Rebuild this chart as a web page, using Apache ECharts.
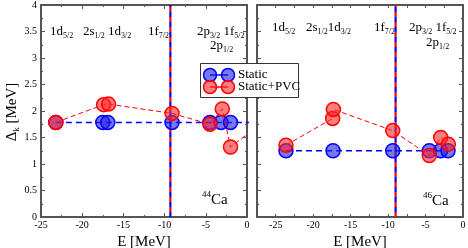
<!DOCTYPE html>
<html><head><meta charset="utf-8">
<script src="https://cdn.jsdelivr.net/npm/echarts@6/dist/echarts.min.js"></script>
<style>html,body{margin:0;padding:0;background:#fff}#c{width:468px;height:248px}</style>
</head><body><div id="c"></div>
<script>
// 44Ca panel
const staticE44 = [-23.2, -17.5, -16.9, -9.1, -4.5, -3.15, -2.0, 1.0];
const static44  = [1.785, 1.785, 1.785, 1.785, 1.785, 1.785, 1.785, 1.785];
const pvcE44    = [-23.2, -17.4, -16.8, -9.1, -4.5, -3.0, -2.0, 0.8];
const pvc44     = [1.785, 2.12, 2.13, 1.955, 1.75, 2.04, 1.32, 1.65];
const fermi44   = -9.3;
// 46Ca panel
const staticE46 = [-23.63, -17.35, -9.38, -4.5, -3.0, -2.0];
const static46  = [1.25, 1.25, 1.25, 1.25, 1.25, 1.25];
const pvcE46    = [-23.63, -17.4, -17.3, -9.38, -4.5, -2.97, -1.96];
const pvc46     = [1.355, 1.86, 2.03, 1.63, 1.16, 1.50, 1.375];
const fermi46   = -9.0;
const yTicks = [0, 4, 0.5];

const FONT = '"Liberation Serif", "DejaVu Serif", serif';
const AX = '#555';
const RED = '#ff0000', BLUE = '#0000ff';
const REDF = 'rgba(255,40,40,0.6)', BLUEF = 'rgba(30,30,230,0.6)';
const zip = (a, b) => a.map((v, i) => [v, b[i]]);

function xAx(grid, pos, min, interval, labels) {
  return {
    type: 'value', gridIndex: grid, position: pos, min: min, max: 0, interval: interval,
    axisLine: {show: true, onZero: false, lineStyle: {color: AX, width: 2}},
    axisTick: {show: true, inside: true, length: interval === 5 ? 4 : 3, lineStyle: {color: AX}},
    minorTick: {show: interval === 5, splitNumber: 2, length: 2, lineStyle: {color: AX}},
    splitLine: {show: false},
    axisLabel: {show: labels, color: '#000', fontFamily: FONT, fontSize: 10, margin: 3,
      formatter: v => (Math.abs(v % 5) < 1e-9 ? String(v) : '')},
    name: labels ? 'E [MeV]' : '', nameLocation: 'middle', nameGap: 13,
    nameTextStyle: {color: '#000', fontFamily: FONT, fontSize: 15}
  };
}
function yAx(grid, pos, labels) {
  return {
    type: 'value', gridIndex: grid, position: pos, min: yTicks[0], max: yTicks[1], interval: yTicks[2],
    axisLine: {show: true, onZero: false, lineStyle: {color: AX, width: 2}},
    axisTick: {show: true, inside: true, length: 4, lineStyle: {color: AX}},
    minorTick: {show: true, splitNumber: 2, length: 2, lineStyle: {color: AX}},
    splitLine: {show: false},
    axisLabel: {show: labels, color: '#000', fontFamily: FONT, fontSize: 10, margin: 4}
  };
}
function pts(name, xi, yi, data, stroke, fill, dash, w, z) {
  return {
    name: name, type: 'line', xAxisIndex: xi, yAxisIndex: yi, data: data, z: z,
    symbol: 'circle', symbolSize: 14, clip: true, animation: false,
    lineStyle: {color: stroke, width: w, type: dash},
    itemStyle: {color: fill, borderColor: stroke, borderWidth: 1.5}
  };
}
function vline(xi, yi, x, color, off) {
  return {
    type: 'line', xAxisIndex: xi, yAxisIndex: yi, data: [[x, 0], [x, 4]], symbol: 'none', z: 5,
    animation: false, silent: true,
    lineStyle: {color: color, width: 2.2, type: [5, 5], dashOffset: off}
  };
}

const sub = {
  m: {fontFamily: FONT, fontSize: 13, lineHeight: 16, verticalAlign: 'middle', color: '#000'},
  s: {fontFamily: FONT, fontSize: 8, lineHeight: 9, verticalAlign: 'bottom', color: '#000'}
};
function lbl(x, y, text) {
  return {type: 'text', left: x, top: y - 7, z: 50,
    style: {text: text, rich: sub, fill: '#000'}};
}
const sup = {
  m: {fontFamily: FONT, fontSize: 15, lineHeight: 18, verticalAlign: 'bottom', color: '#000'},
  p: {fontFamily: FONT, fontSize: 9, lineHeight: 18, verticalAlign: 'top', color: '#000'}
};

const chart = echarts.init(document.getElementById('c'), null, {renderer: 'canvas'});
chart.setOption({
  backgroundColor: '#fff',
  animation: false,
  grid: [
    {left: 41, top: 5, width: 206, height: 212, outerBoundsMode: 'none', containLabel: false},
    {left: 257, top: 5, width: 206, height: 212, outerBoundsMode: 'none', containLabel: false}
  ],
  xAxis: [xAx(0, 'bottom', -25, 5, true), xAx(0, 'top', -25, 5, false),
          xAx(1, 'bottom', -27.5, 2.5, true), xAx(1, 'top', -27.5, 2.5, false)],
  yAxis: [yAx(0, 'left', true), yAx(0, 'right', false), yAx(1, 'left', false), yAx(1, 'right', false)],
  series: [
    vline(0, 0, fermi44, BLUE, 0), vline(0, 0, fermi44, RED, 5),
    vline(2, 2, fermi46, RED, 0), vline(2, 2, fermi46, BLUE, 5),
    pts('Static', 0, 0, zip(staticE44, static44), BLUE, BLUEF, [6, 4], 1.5, 6),
    pts('Static+PVC', 0, 0, zip(pvcE44, pvc44), RED, REDF, [5, 3], 1, 7),
    pts('Static', 2, 2, zip(staticE46, static46), BLUE, BLUEF, [6, 4], 1.5, 6),
    pts('Static+PVC', 2, 2, zip(pvcE46, pvc46), RED, REDF, [5, 3], 1, 7)
  ],
  graphic: [
    lbl(50, 32, '{m|1d}{s|5/2}'),
    lbl(83, 32, '{m|2s}{s|1/2}{m| 1d}{s|3/2}'),
    lbl(148, 32, '{m|1f}{s|7/2}'),
    lbl(197, 32, '{m|2p}{s|3/2}{m| 1f}{s|5/2}'),
    lbl(210, 46, '{m|2p}{s|1/2}'),
    lbl(272, 28, '{m|1d}{s|5/2}'),
    lbl(306, 28, '{m|2s}{s|1/2}{m|1d}{s|3/2}'),
    lbl(374, 28, '{m|1f}{s|7/2}'),
    lbl(409, 28, '{m|2p}{s|3/2}{m| 1f}{s|5/2}'),
    lbl(426, 43, '{m|2p}{s|1/2}'),
    {type: 'text', left: 202, top: 190, z: 50, style: {text: '{p|44}{m|Ca}', rich: sup}},
    {type: 'text', left: 423, top: 191, z: 50, style: {text: '{p|46}{m|Ca}', rich: sup}},
    {type: 'text', x: 12, y: 112, rotation: Math.PI / 2, z: 50,
      style: {text: '{m|Δ}{s|k}{m| [MeV]}', align: 'center', verticalAlign: 'middle',
        rich: {m: {fontFamily: FONT, fontSize: 15, lineHeight: 18, verticalAlign: 'middle', color: '#000'},
               s: {fontFamily: FONT, fontSize: 9, lineHeight: 10, verticalAlign: 'bottom', color: '#000'}}}},
    // legend
    {type: 'rect', z: 60, shape: {x: 200.5, y: 63.5, width: 98, height: 34},
      style: {fill: '#fff', stroke: '#333', lineWidth: 1}},
    {type: 'line', z: 61, shape: {x1: 210, y1: 75, x2: 228, y2: 75}, style: {stroke: BLUE, lineWidth: 1.5}},
    {type: 'circle', z: 62, shape: {cx: 210, cy: 75, r: 6.5}, style: {fill: BLUEF, stroke: BLUE, lineWidth: 1.5}},
    {type: 'circle', z: 62, shape: {cx: 228, cy: 75, r: 6.5}, style: {fill: BLUEF, stroke: BLUE, lineWidth: 1.5}},
    {type: 'line', z: 61, shape: {x1: 210, y1: 87, x2: 228, y2: 87}, style: {stroke: RED, lineWidth: 1.5}},
    {type: 'circle', z: 63, shape: {cx: 210, cy: 87, r: 6.5}, style: {fill: REDF, stroke: RED, lineWidth: 1.5}},
    {type: 'circle', z: 63, shape: {cx: 228, cy: 87, r: 6.5}, style: {fill: REDF, stroke: RED, lineWidth: 1.5}},
    {type: 'text', z: 64, left: 238, top: 68, style: {text: 'Static', fill: '#000', fontSize: 13, fontFamily: FONT}},
    {type: 'text', z: 64, left: 238, top: 80, style: {text: 'Static+PVC', fill: '#000', fontSize: 13, fontFamily: FONT}}
  ]
});
</script></body></html>
